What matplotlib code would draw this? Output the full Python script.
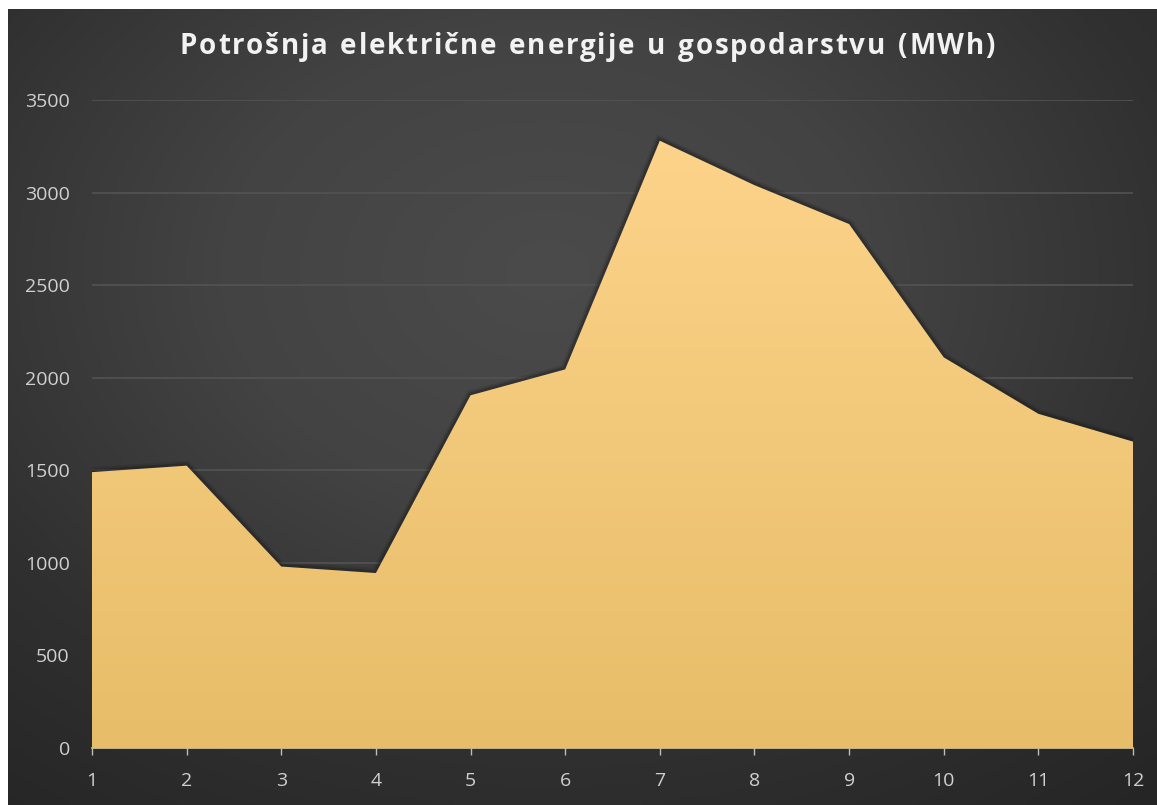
import numpy as np
import matplotlib
matplotlib.use('Agg')
import matplotlib.pyplot as plt
from matplotlib.colors import LinearSegmentedColormap

# Monthly electricity consumption (MWh)
months = list(range(1, 13))
consumption = [1490, 1525, 980, 945, 1905, 2045, 3280, 3040, 2830, 2110, 1805, 1655]
yticks = [0, 500, 1000, 1500, 2000, 2500, 3000, 3500]
title = "Potrošnja električne energije u gospodarstvu (MWh)"

W, H = 1157, 805
fig = plt.figure(figsize=(W / 100, H / 100), dpi=100)
fig.patch.set_facecolor('white')

# Dark radial background (thin white strip at top/left like the screenshot)
bg = fig.add_axes([8 / W, 0, 1 - 8 / W, 1 - 9 / H])
bg.axis('off')
yy, xx = np.mgrid[0:1:400j, 0:1:600j]
r = np.sqrt(((xx - 0.47) / 0.95) ** 2 + ((yy - 0.33) / 1.0) ** 2)
bg_cmap = LinearSegmentedColormap.from_list(
    'bg', [(0, '#4b4b4b'), (0.3, '#434343'), (0.6, '#303030'), (1, '#202020')])
bg.imshow(np.clip(r, 0, 1), cmap=bg_cmap, aspect='auto', extent=[0, 1, 1, 0], vmin=0, vmax=1)
bg.set_xlim(0, 1)
bg.set_ylim(1, 0)

# Main plotting area
left, right, top, bottom = 92, 1133, 100, 748
ax = fig.add_axes([left / W, 1 - bottom / H, (right - left) / W, (bottom - top) / H])
ax.set_facecolor('none')

for t in yticks[1:]:
    ax.axhline(t, color='#535353', lw=1.2, zorder=1)

# soft shadow along the outline
for lw, a in [(7, 0.15), (4, 0.3)]:
    ax.plot(months, consumption, color='#141414', lw=lw, alpha=a,
            solid_joinstyle='miter', zorder=2)

poly = ax.fill_between(months, consumption, 0, color='none', lw=0, zorder=3)
fill_cmap = LinearSegmentedColormap.from_list('fill', ['#e7bd69', '#fdd48b'])
grad = np.linspace(0, 1, 256).reshape(-1, 1)
im = ax.imshow(grad, cmap=fill_cmap, aspect='auto', origin='lower',
               extent=[1, 12, 0, 3400], zorder=3)
im.set_clip_path(poly.get_paths()[0], transform=ax.transData)
ax.set_ylim(0, 3500)
ax.set_xlim(1, 12)

for s in ['top', 'right', 'left']:
    ax.spines[s].set_visible(False)
ax.spines['bottom'].set_color('#d9c9a0')
ax.spines['bottom'].set_linewidth(1.2)

ax.set_xticks(months)
ax.set_xticklabels([str(m) for m in months])
ax.set_yticks(yticks)
ax.set_yticklabels([str(v) for v in yticks])
ax.tick_params(axis='x', colors='#bdbdbd', length=5, width=1, pad=12,
               labelsize=14, labelcolor='#d0d0d0')
ax.tick_params(axis='y', length=0, pad=16, labelsize=14, labelcolor='#d0d0d0')
for lab in ax.get_xticklabels() + ax.get_yticklabels():
    lab.set_fontfamily('Open Sans')

# Title with extra letter spacing, stretched to span the same width as the original
renderer = fig.canvas.get_renderer()
title_kw = dict(fontsize=20, fontweight='bold', color='#f2f2f2', family='Open Sans',
                va='center', ha='left')
widths = []
for ch in title:
    t = fig.text(0, 0, ch if ch != ' ' else 'n', **title_kw)
    w = t.get_window_extent(renderer).width
    widths.append(w * 0.5 if ch == ' ' else w)
    t.remove()
t_left, t_right = 180, 995
spacing = ((t_right - t_left) - sum(widths)) / (len(title) - 1)
x = t_left
for ch, w in zip(title, widths):
    if ch != ' ':
        fig.text(x / W, 1 - 47 / H, ch, **title_kw)
    x += w + spacing

fig.savefig('out.png', dpi=100, facecolor=fig.get_facecolor())
